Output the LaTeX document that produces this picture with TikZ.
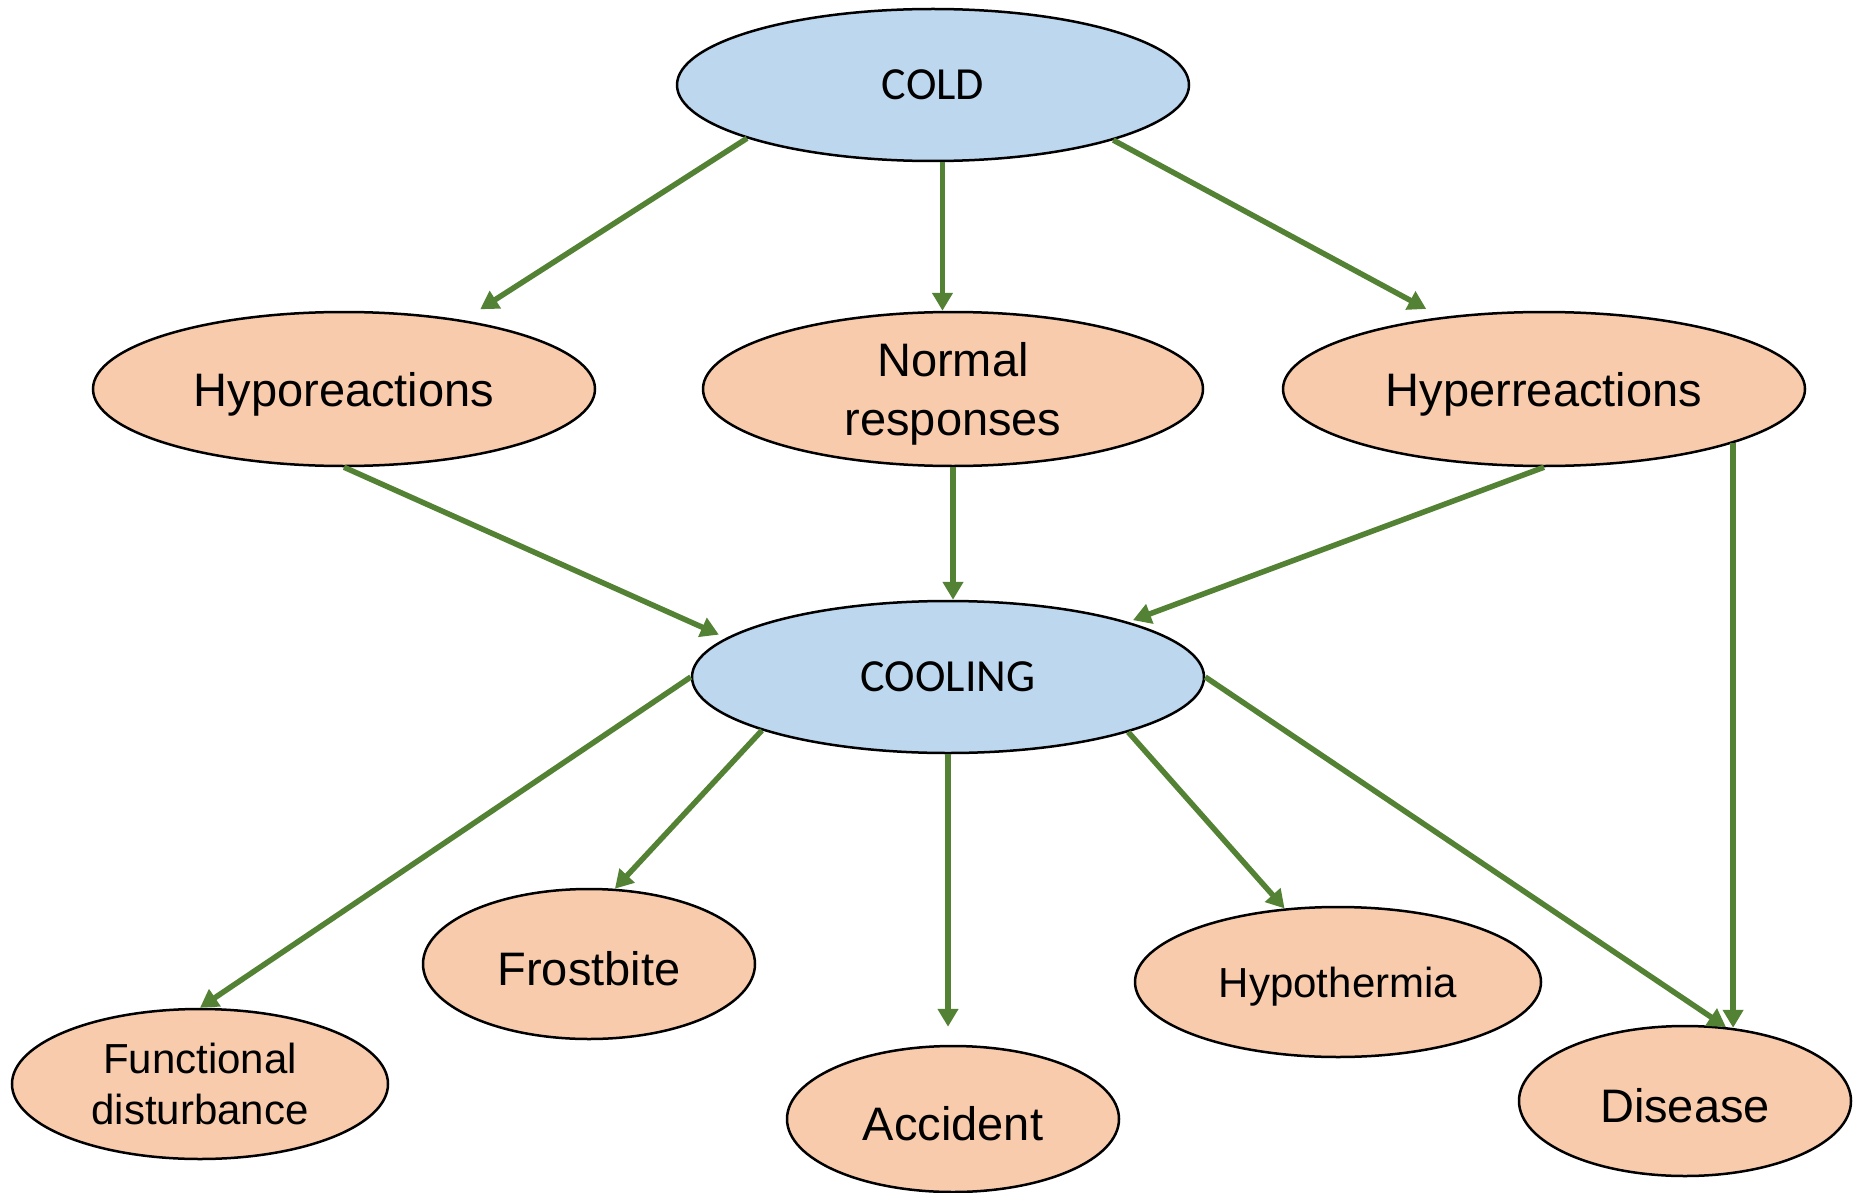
\documentclass[tikz,border=0pt]{standalone}
\usepackage{fontspec}
\setmainfont{Liberation Sans}
\newfontfamily\calfont{Carlito}
\usetikzlibrary{shapes.geometric,arrows.meta}
\definecolor{blueFill}{HTML}{BDD7EE}
\definecolor{orangeFill}{HTML}{F8CBAD}
\definecolor{arrowGreen}{HTML}{548235}
\newcommand\dn[1]{\raisebox{-5pt}[\height][\depth]{#1}}
\newcommand\twolines[3]{\raisebox{0pt}[10pt][#3]{\begin{tabular}[t]{@{}c@{}}#1\\#2\end{tabular}}}
\begin{document}
\begin{tikzpicture}[x=1pt,y=-1pt,
  ell/.style={ellipse, draw=black, line width=2.5pt, inner sep=0pt, align=center},
  bluebox/.style={ell, fill=blueFill, font=\calfont\fontsize{46}{55}\selectfont},
  orangebox/.style={ell, fill=orangeFill, font=\fontsize{47}{59}\selectfont},
  smallorange/.style={ell, fill=orangeFill, font=\fontsize{42}{51}\selectfont},
  conn/.style={draw=arrowGreen, line width=5.5pt, -{Triangle[length=18pt,width=20pt]}}
]
\useasboundingbox (0,0) rectangle (1855,1193);
\node[bluebox, minimum width=512pt, minimum height=152pt] (cold) at (933,85) {COLD};
\node[orangebox, minimum width=502pt, minimum height=154pt] (hypo) at (344,389) {\dn{Hyporeactions}};
\node[orangebox, minimum width=500pt, minimum height=154pt] (normal) at (953,389) {\twolines{Normal}{responses}{35.4pt}};
\node[orangebox, minimum width=522pt, minimum height=154pt] (hyper) at (1544,389) {\dn{Hyperreactions}};
\node[bluebox, minimum width=512pt, minimum height=152pt] (cooling) at (948,677) {COOLING};
\node[smallorange, minimum width=376pt, minimum height=150pt] (func) at (200,1084) {\twolines{Functional}{disturbance}{32pt}};
\node[orangebox, minimum width=332pt, minimum height=150pt] (frost) at (589,964) {\dn{Frostbite}};
\node[orangebox, minimum width=332pt, minimum height=146pt] (accident) at (953,1119) {\dn{Accident}};
\node[smallorange, minimum width=406pt, minimum height=150pt] (hypot) at (1338,982) {\dn{Hypothermia}};
\node[orangebox, minimum width=332pt, minimum height=150pt] (disease) at (1685,1101) {\dn{Disease}};

\draw[conn, shorten >=20pt] (cold.196) -- (hypo.30.3);
\draw[conn] (cold.277.5) -- (cold.277.5 |- hypo.north);
\draw[conn, shorten >=17pt] (cold.343.6) -- (hyper.145.8);
\draw[conn, shorten >=8pt] (hypo.south) -- (cooling.170.7);
\draw[conn] (normal.south) -- (normal.south |- cooling.north);
\draw[conn, shorten >=5pt] (hyper.south) -- (cooling.17);
\draw[conn] (hyper.344.8) -- ([yshift=-3pt]hyper.344.8 |- disease.north);
\draw[conn] (cooling.west) -- (func.north);
\draw[conn] (cooling.196.6) -- (frost.71);
\draw[conn, shorten >=18pt] (cooling.south) -- (cooling.south |- accident.north);
\draw[conn] (cooling.343.4) -- (hypot.126.4);
\draw[conn] (cooling.east) -- (disease.61.4);
\end{tikzpicture}
\end{document}
